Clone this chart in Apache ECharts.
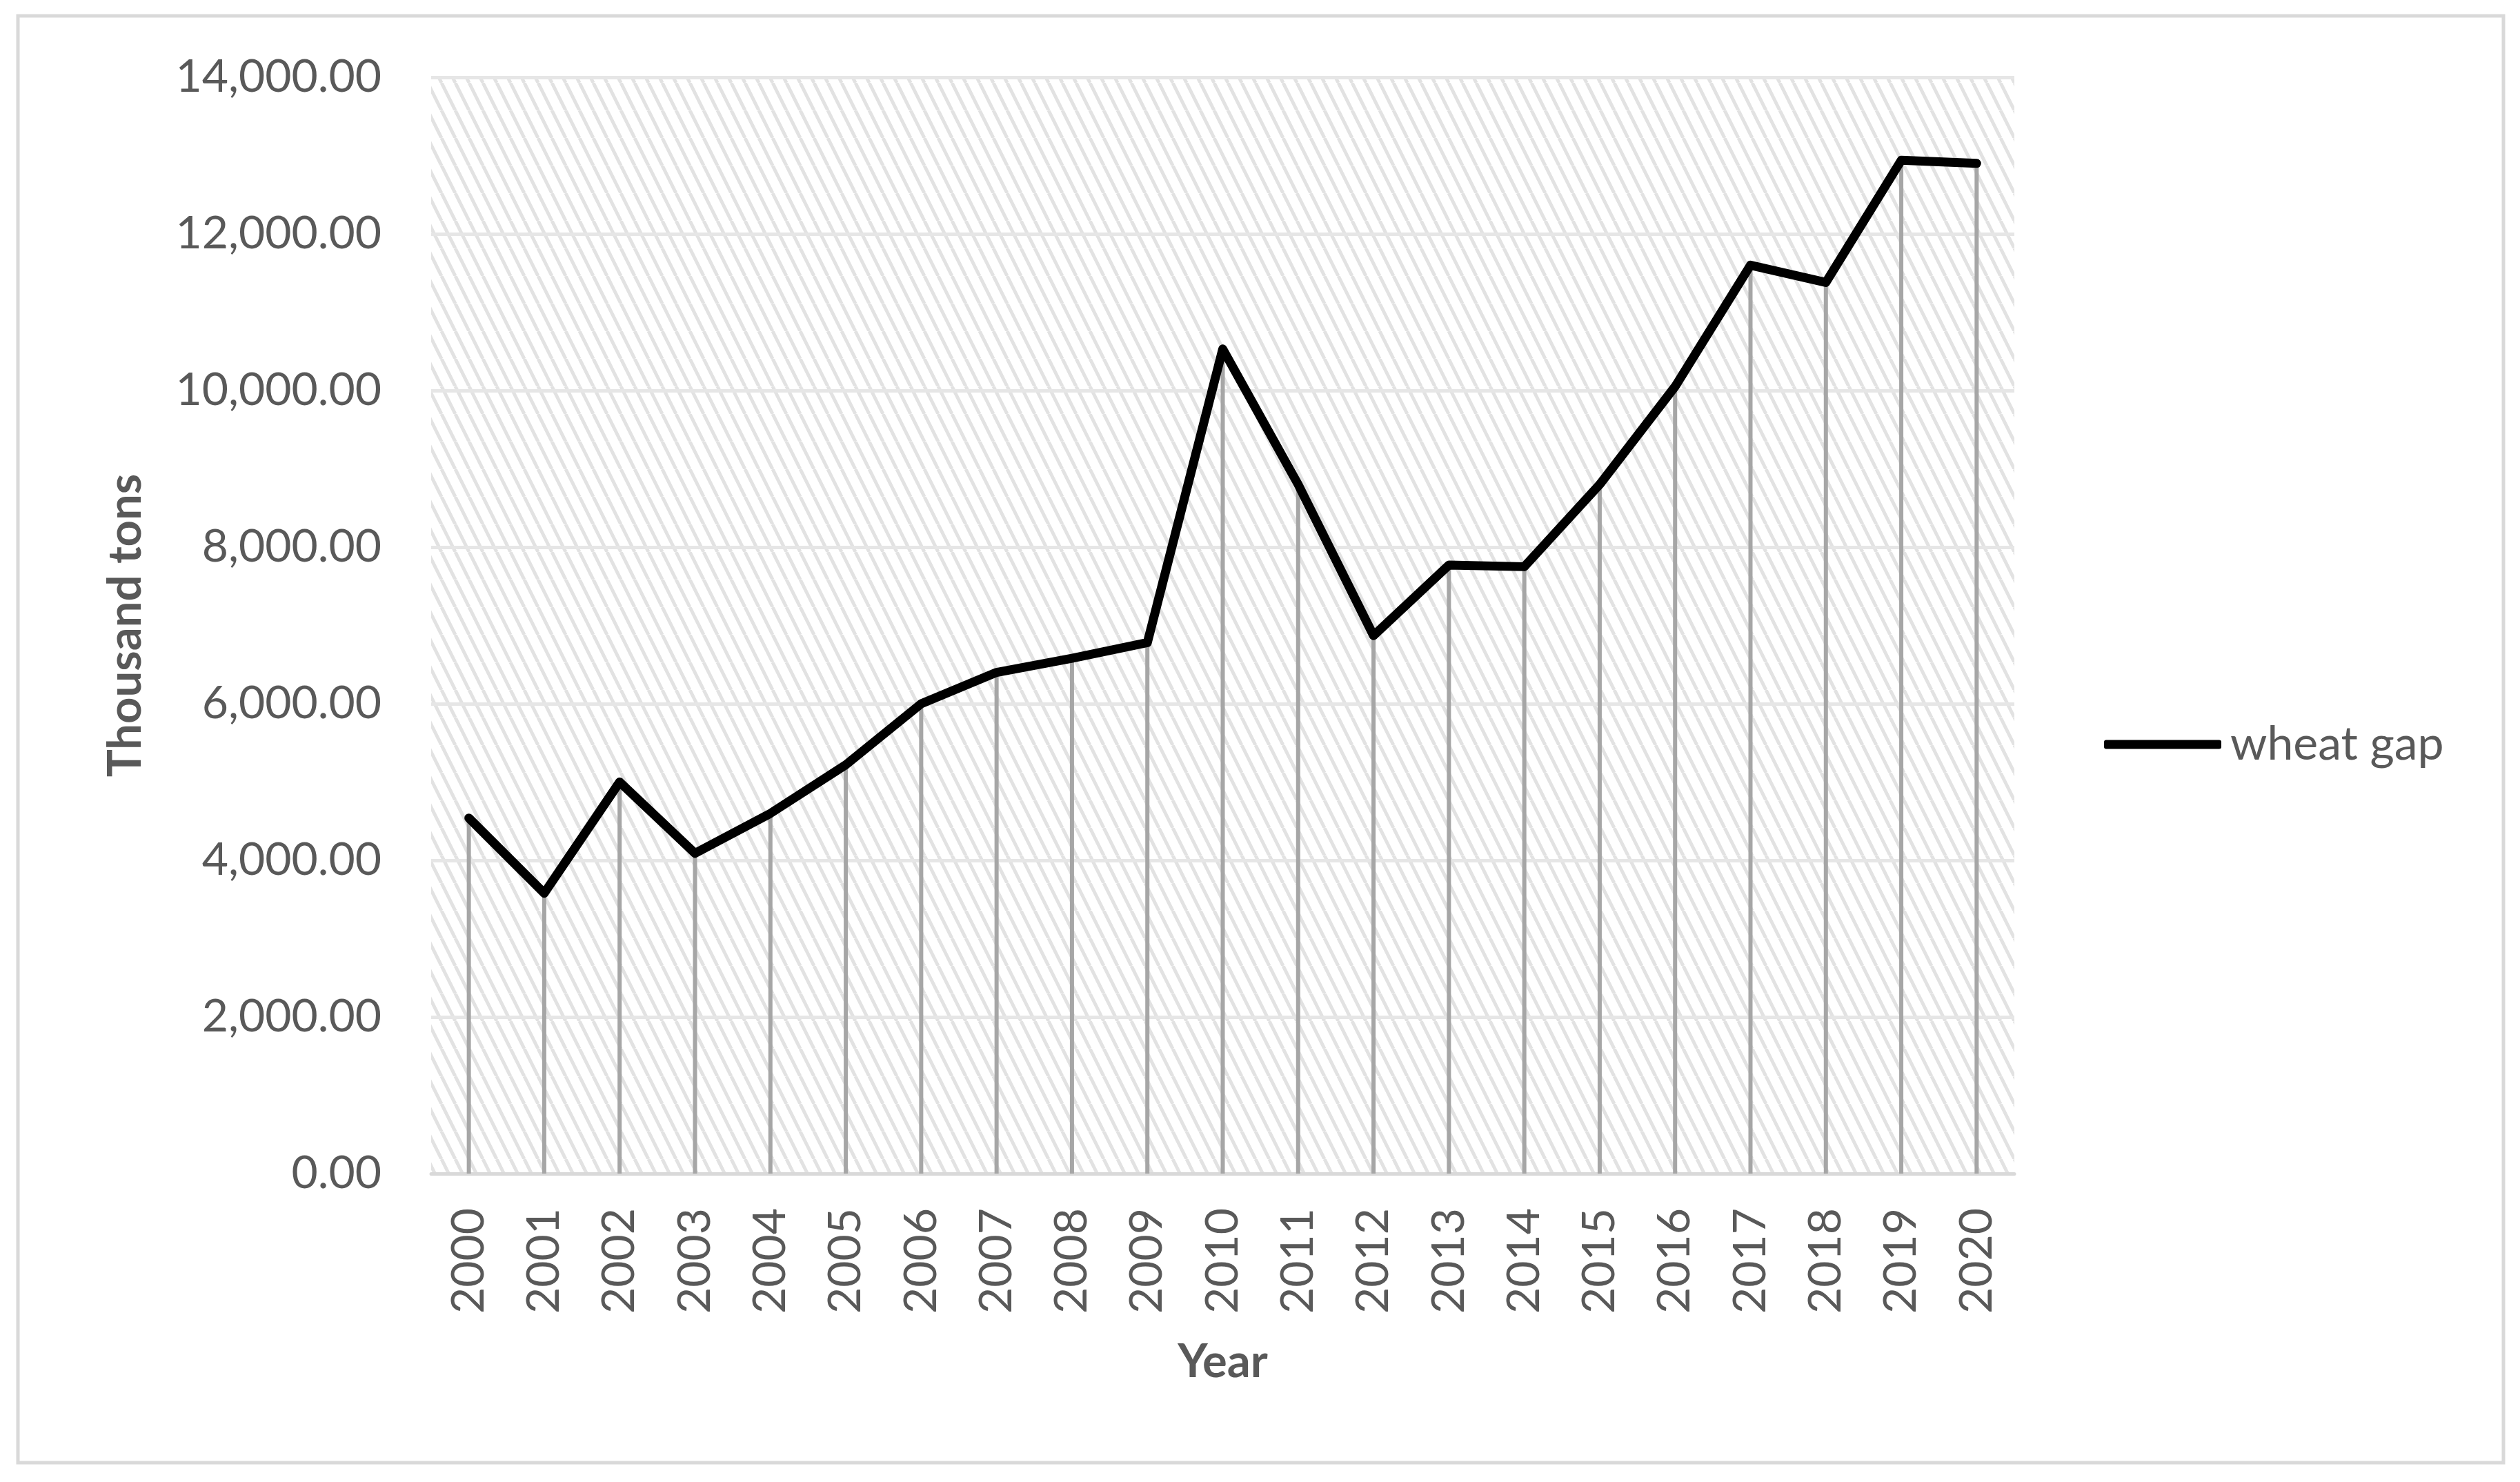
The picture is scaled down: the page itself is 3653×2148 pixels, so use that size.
<!DOCTYPE html>
<html>
<head>
<meta charset="utf-8">
<script src="https://cdn.jsdelivr.net/npm/echarts@6/dist/echarts.min.js"></script>
<style>
html,body{margin:0;padding:0;background:#fff;}
#chart{width:3653px;height:2148px;}
</style>
</head>
<body>
<div id="chart"></div>
<script>
// ---- Data ----
const years = ['2000','2001','2002','2003','2004','2005','2006','2007','2008','2009','2010',
               '2011','2012','2013','2014','2015','2016','2017','2018','2019','2020'];
const wheatGap = [4540, 3580, 5000, 4090, 4600, 5220, 6000, 6400, 6580, 6780, 10530,
                  8800, 6870, 7770, 7750, 8800, 10050, 11600, 11380, 12940, 12900];
const seriesName = 'wheat gap';
const yAxisTitle = 'Thousand tons';
const xAxisTitle = 'Year';
const yMin = 0, yMax = 14000, yStep = 2000;

// ---- Hatch pattern for plot area ----
function makeHatch() {
  const w = 20, h = 40;
  const c = document.createElement('canvas');
  c.width = w; c.height = h;
  const ctx = c.getContext('2d');
  ctx.fillStyle = '#ffffff';
  ctx.fillRect(0, 0, w, h);
  ctx.strokeStyle = '#e2e2e2';
  ctx.lineWidth = 5;
  for (let k = -1; k <= 1; k++) {
    ctx.beginPath();
    ctx.moveTo(k * w, 0);
    ctx.lineTo(k * w + w, h);
    ctx.stroke();
  }
  return c;
}

const fontMain = 'Lato, "Open Sans", sans-serif';
const chart = echarts.init(document.getElementById('chart'));
chart.setOption({
  animation: false,
  backgroundColor: '#ffffff',
  grid: {
    left: 625, right: 733, top: 112, bottom: 447,
    show: true,
    backgroundColor: { image: makeHatch(), repeat: 'repeat' },
    borderWidth: 0
  },
  legend: {
    data: [{ name: seriesName, icon: 'roundRect' }],
    left: 3045,
    top: 1040,
    itemWidth: 170,
    itemHeight: 13,
    itemStyle: { color: '#000000', borderWidth: 0 },
    textStyle: { fontFamily: fontMain, fontSize: 68, lineHeight: 68, color: '#595959', padding: [0,0,0,8] }
  },
  xAxis: {
    type: 'category',
    data: years,
    boundaryGap: true,
    name: xAxisTitle,
    nameLocation: 'middle',
    nameGap: 273,
    nameTextStyle: { fontFamily: fontMain, fontSize: 67, fontWeight: 'bold', color: '#595959', verticalAlign: 'middle' },
    axisLine: { show: true, lineStyle: { color: '#d9d9d9', width: 5 } },
    axisTick: { show: false },
    axisLabel: { rotate: 90, margin: 50, fontFamily: fontMain, fontSize: 66, color: '#595959', interval: 0 },
    splitLine: { show: false }
  },
  yAxis: {
    type: 'value',
    min: yMin, max: yMax, interval: yStep,
    name: yAxisTitle,
    nameLocation: 'middle',
    nameGap: 443,
    nameTextStyle: { fontFamily: fontMain, fontSize: 67, fontWeight: 'bold', color: '#595959', verticalAlign: 'middle' },
    axisLine: { show: false },
    axisTick: { show: false },
    axisLabel: {
      margin: 72, fontFamily: fontMain, fontSize: 66, color: '#595959',
      formatter: v => v.toLocaleString('en-US', { minimumFractionDigits: 2, maximumFractionDigits: 2 })
    },
    splitLine: { show: true, lineStyle: { color: '#e6e6e6', width: 5 } }
  },
  series: [
    {
      name: 'drop',
      type: 'bar',
      data: wheatGap,
      barWidth: 6,
      itemStyle: { color: '#a6a6a6' },
      silent: true,
      z: 2
    },
    {
      name: seriesName,
      type: 'line',
      data: wheatGap,
      symbol: 'none',
      showSymbol: false,
      lineStyle: { color: '#000000', width: 13, cap: 'round', join: 'round' },
      itemStyle: { color: '#000000' },
      z: 3
    }
  ],
  graphic: [
    {
      type: 'rect',
      shape: { x: 26, y: 23, width: 3603, height: 2097 },
      style: { fill: 'none', stroke: '#d9d9d9', lineWidth: 5 },
      silent: true
    }
  ]
});
</script>
</body>
</html>
